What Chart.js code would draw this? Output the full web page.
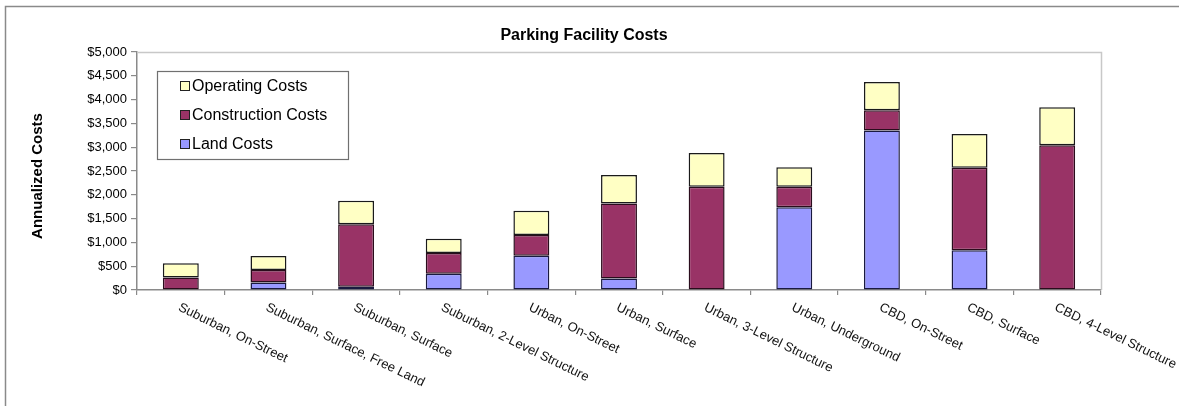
<!DOCTYPE html>
<html>
<head>
<meta charset="utf-8">
<title>Parking Facility Costs</title>
<script src="https://cdn.jsdelivr.net/npm/chart.js@4/dist/chart.umd.min.js"></script>
<style>
  html, body { margin: 0; padding: 0; background: #fff; }
  #wrap { width: 1179px; height: 406px; }
</style>
</head>
<body>
<div id="wrap"><canvas id="costChart" width="1179" height="406"></canvas></div>
<script>
const categories = [
    "Suburban, On-Street",
    "Suburban, Surface, Free Land",
    "Suburban, Surface",
    "Suburban, 2-Level Structure",
    "Urban, On-Street",
    "Urban, Surface",
    "Urban, 3-Level Structure",
    "Urban, Underground",
    "CBD, On-Street",
    "CBD, Surface",
    "CBD, 4-Level Structure"
];

// annualized cost per space, stacked bottom to top
const landCosts         = [0, 155, 70, 340, 720, 240, 0, 1740, 3350, 835, 0];
const constructionCosts = [265, 265, 1310, 435, 435, 1575, 2170, 430, 425, 1735, 3040];
const operatingCosts    = [295, 295, 495, 300, 510, 600, 710, 410, 595, 705, 800];

const yTicks = [0, 500, 1000, 1500, 2000, 2500, 3000, 3500, 4000, 4500, 5000];

const FONT = "Arial, 'Liberation Sans', sans-serif";

// frame, plot border, titles, slanted category labels and the boxed legend
const extras = {
    id: "extras",
    beforeDraw(chart) {
        const ctx = chart.ctx;
        ctx.save();
        ctx.fillStyle = "#fff";
        ctx.fillRect(0, 0, chart.width, chart.height);
        ctx.strokeStyle = "#8a8a8a";
        ctx.lineWidth = 1.5;
        ctx.beginPath();
        ctx.moveTo(5.5, 406);
        ctx.lineTo(5.5, 6.5);
        ctx.lineTo(1179, 6.5);
        ctx.stroke();
        ctx.restore();
    },
    afterDraw(chart) {
        const ctx = chart.ctx;
        const area = chart.chartArea;
        const x = chart.scales.x;

        ctx.save();
        // top and right edge of the plot area
        ctx.strokeStyle = "#c8c8c8";
        ctx.lineWidth = 1.5;
        ctx.beginPath();
        ctx.moveTo(area.left, area.top + 0.5);
        ctx.lineTo(area.right + 0.5, area.top + 0.5);
        ctx.lineTo(area.right + 0.5, area.bottom);
        ctx.stroke();

        ctx.fillStyle = "#000";
        ctx.font = "bold 16px " + FONT;
        ctx.textAlign = "center";
        ctx.textBaseline = "alphabetic";
        ctx.fillText("Parking Facility Costs", 584, 40);

        ctx.save();
        ctx.translate(38, 176);
        ctx.rotate(-Math.PI / 2);
        ctx.font = "bold 15px " + FONT;
        ctx.textBaseline = "middle";
        ctx.fillText("Annualized Costs", 0, 0);
        ctx.restore();

        // category labels slope down to the right
        ctx.font = "13px " + FONT;
        ctx.fillStyle = "#111";
        ctx.textAlign = "left";
        ctx.textBaseline = "top";
        categories.forEach((label, i) => {
            const px = x.getPixelForTick(i);
            ctx.save();
            ctx.translate(px + 1, area.bottom + 11);
            ctx.rotate(26 * Math.PI / 180);
            ctx.fillText(label, 0, 0);
            ctx.restore();
        });

        // legend box
        ctx.fillStyle = "#fff";
        ctx.fillRect(157.5, 71.5, 191, 88);
        ctx.strokeStyle = "#707070";
        ctx.lineWidth = 1.2;
        ctx.strokeRect(157.5, 71.5, 191, 88);
        const items = chart.data.datasets.slice().reverse();
        ctx.font = "16px " + FONT;
        ctx.textBaseline = "middle";
        items.forEach((ds, i) => {
            const cy = 86 + i * 29;
            ctx.fillStyle = ds.backgroundColor;
            ctx.fillRect(180.5, cy - 4.5, 9, 9);
            ctx.strokeStyle = "#222";
            ctx.lineWidth = 1;
            ctx.strokeRect(180.5, cy - 4.5, 9, 9);
            ctx.fillStyle = "#000";
            ctx.fillText(ds.label, 192, cy + 1);
        });
        ctx.restore();
    }
};

const costChart = new Chart(document.getElementById("costChart"), {
    type: "bar",
    data: {
        labels: categories,
        datasets: [{
            label: "Land Costs",
            data: landCosts,
            backgroundColor: "#9999ff",
            borderColor: "#1a1a40"
        }, {
            label: "Construction Costs",
            data: constructionCosts,
            backgroundColor: "#993366",
            borderColor: "#2a0c1c"
        }, {
            label: "Operating Costs",
            data: operatingCosts,
            backgroundColor: "#ffffc4",
            borderColor: "#1a1a1a"
        }]
    },
    options: {
        responsive: false,
        animation: false,
        layout: { padding: { left: 0, top: 52, right: 78, bottom: 0 } },
        datasets: {
            bar: {
                barPercentage: 0.41,
                categoryPercentage: 1,
                borderWidth: 1.5,
                borderSkipped: false
            }
        },
        plugins: {
            legend: { display: false },
            title: { display: false },
            tooltip: { enabled: false }
        },
        scales: {
            x: {
                stacked: true,
                afterFit: scale => { scale.height = 116; },
                ticks: { display: false },
                grid: {
                    drawOnChartArea: false,
                    tickLength: 5,
                    color: "#8a8a8a",
                    lineWidth: 1.2
                },
                border: { color: "#8a8a8a", width: 1.5 }
            },
            y: {
                stacked: true,
                min: 0,
                max: 5000,
                afterFit: scale => { scale.width = 137; },
                afterBuildTicks: scale => {
                    scale.ticks = yTicks.map(v => ({ value: v }));
                },
                ticks: {
                    padding: 4,
                    color: "#000",
                    font: { family: FONT, size: 13 },
                    callback: v => "$" + v.toLocaleString("en-US")
                },
                grid: {
                    drawOnChartArea: false,
                    tickLength: 6,
                    color: "#8a8a8a",
                    lineWidth: 1.2
                },
                border: { color: "#8a8a8a", width: 1.5 }
            }
        }
    },
    plugins: [extras]
});
</script>
</body>
</html>
